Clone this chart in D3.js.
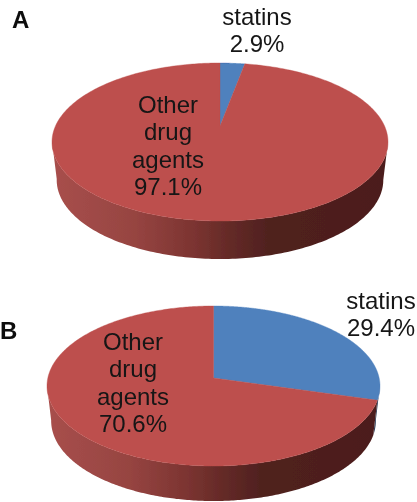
<!DOCTYPE html>
<html><head><meta charset="utf-8">
<script src="https://cdn.jsdelivr.net/npm/d3@7/dist/d3.min.js"></script>
<style>html,body{margin:0;padding:0;background:#fff}svg{display:block}
text{font-family:"Liberation Sans",Arial,sans-serif;fill:#151515}</style></head>
<body><svg id="c" width="417" height="502"></svg>
<script>
const categories = ["statins", "Other drug agents"];
const valuesA = [2.9, 97.1];
const valuesB = [29.4, 70.6];
const labelsA = [["statins", "2.9%"], ["Other", "drug", "agents", "97.1%"]];
const labelsB = [["statins", "29.4%"], ["Other", "drug", "agents", "70.6%"]];
const topColors = ["#4f81bd", "#bd4f4d"];

const panels = [
  {name:"A", values:valuesA, labels:labelsA, cx:220, cy:142, rx:168, ry:79, apexY:126, depth:38, taper:0.972,
   letter:[12,28], pos:[[257,25],[168,113]]},
  {name:"B", values:valuesB, labels:labelsB, cx:213.5, cy:386, rx:166.5, ry:80, apexY:378, depth:35, taper:0.975,
   letter:[0,339], pos:[[381,309],[133,350]]}
];

const svg = d3.select("#c");
const defs = svg.append("defs");
defs.append("filter").attr("id","soft").attr("x","-5%").attr("y","-5%").attr("width","110%").attr("height","110%")
  .append("feGaussianBlur").attr("stdDeviation",0.45);

const wallStops = {
  "#bd4f4d":[[0,"#a84f4c"],[0.25,"#964441"],[0.42,"#7c3431"],[0.52,"#662b28"],[0.64,"#50211f"],[1,"#4c1d1b"]],
  "#4f81bd":[[0,"#4a6f9e"],[1,"#2a3a55"]]
};

const root = svg.append("g").attr("filter","url(#soft)");
const line = d3.line();

panels.forEach(p => {
  const a = (p.apexY - p.cy) / p.ry;
  // projective map of the unit disc: the pie centre lands on the tilted apex
  const project = (ang, r=1) => {
    const u = r*Math.sin(ang), v = -r*Math.cos(ang), d = 1 + a*v;
    return [p.cx + p.rx*u*Math.sqrt(1-a*a)/d, p.cy + p.ry*(v+a)/d];
  };
  const arcs = d3.pie().sort(null)(p.values);
  const g = root.append("g");

  const gradId = c => "wall"+p.name+c.slice(1);
  topColors.forEach(c => {
    const gr = defs.append("linearGradient").attr("id",gradId(c)).attr("gradientUnits","userSpaceOnUse")
      .attr("x1",p.cx-p.rx).attr("x2",p.cx+p.rx).attr("y1",0).attr("y2",0);
    wallStops[c].forEach(s => gr.append("stop").attr("offset",s[0]).attr("stop-color",s[1]));
  });

  // side walls: visible front part of each slice's rim, extruded downward and tapered
  arcs.forEach((s,i) => {
    const pts = d3.range(0,361).map(k => s.startAngle + (s.endAngle-s.startAngle)*k/360)
      .map(t => project(t)).filter(q => q[1] >= p.cy - 1);
    if (pts.length < 2) return;
    const poly = pts.concat(pts.slice().reverse().map(q => [p.cx + (q[0]-p.cx)*p.taper, q[1]+p.depth]));
    g.append("path").attr("d", line(poly)+"Z").attr("fill",`url(#${gradId(topColors[i])})`);
  });

  // top face
  arcs.forEach((s,i) => {
    const rim = d3.range(0,361).map(k => project(s.startAngle + (s.endAngle-s.startAngle)*k/360));
    g.append("path").attr("d", line([project(0,0)].concat(rim))+"Z")
      .attr("fill",topColors[i]).attr("stroke",topColors[i]).attr("stroke-width",0.4);
  });

  // labels
  p.labels.forEach((lines,i) => lines.forEach((t,j) => {
    g.append("text").attr("x",p.pos[i][0]).attr("y",p.pos[i][1]+j*27.4)
      .attr("text-anchor","middle").attr("font-size",24).text(t);
  }));
  g.append("text").attr("x",p.letter[0]).attr("y",p.letter[1])
    .attr("font-size",24).attr("font-weight","bold").style("fill","#0c0c0c").text(p.name);
});
</script></body></html>
